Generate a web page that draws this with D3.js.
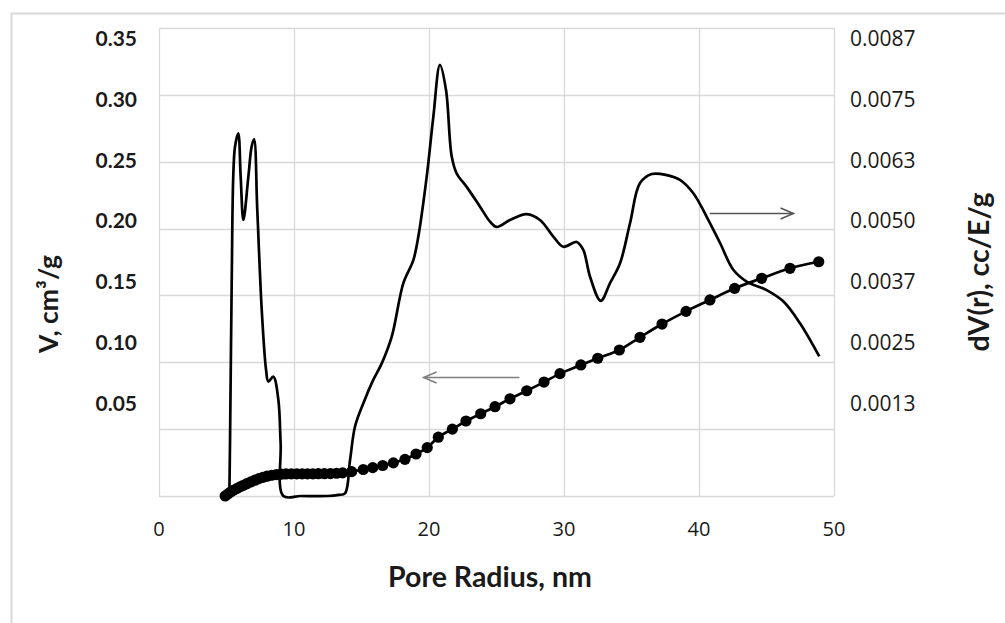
<!DOCTYPE html>
<html>
<head>
<meta charset="utf-8">
<script src="https://cdn.jsdelivr.net/npm/d3@7"></script>
<style>
  body { margin: 0; background: #fff; }
  svg { display: block; }
</style>
</head>
<body>
<script>
// pore radius (nm) of the cumulative volume points
var radiusV = [4.9, 5.1, 5.3, 5.5, 5.75, 6.0, 6.25, 6.5, 6.8, 7.1, 7.4, 7.7, 8.0, 8.35, 8.7,
  9.05, 9.4, 9.8, 10.2, 10.6, 11.0, 11.4, 11.8, 12.25, 12.7, 13.15, 13.6, 14.27, 15.13, 15.83,
  16.57, 17.36, 18.22, 19.04, 19.87, 20.69, 21.73, 22.74, 23.83, 24.89, 26.0, 27.24, 28.52,
  29.7, 31.25, 32.5, 34.1, 35.63, 37.26, 39.04, 40.81, 42.64, 44.64, 46.74, 48.87];
// cumulative volume V, cm3/g
var volume = [0, 0.0015, 0.003, 0.0042, 0.0055, 0.0068, 0.008, 0.0092, 0.0105, 0.0118, 0.013,
  0.014, 0.0148, 0.0155, 0.016, 0.0163, 0.0165, 0.0166, 0.0166, 0.0166, 0.0166, 0.0166, 0.0167,
  0.0167, 0.0168, 0.017, 0.0173, 0.0182, 0.0198, 0.0212, 0.0228, 0.0248, 0.0274, 0.0314, 0.0362,
  0.044, 0.05, 0.0561, 0.0615, 0.0668, 0.0727, 0.0787, 0.0852, 0.0915, 0.098, 0.103, 0.1092,
  0.1187, 0.1286, 0.1381, 0.1466, 0.1553, 0.1628, 0.1703, 0.1752];

// pore radius (nm) of the distribution curve
var radiusD = [5.21, 5.26, 5.39, 5.5, 5.63, 5.87, 6.05, 6.25, 6.62, 6.86, 7.04, 7.28, 7.61, 7.93,
  8.1, 8.47, 8.84, 9.01, 9.21, 10.5, 12.5, 13.3, 13.78, 14.15, 14.52, 15.13, 15.87, 16.5, 17.24,
  18.1, 18.84, 19.21, 19.83, 20.32, 20.81, 21.26, 21.68, 22.05, 22.79, 23.78, 24.52, 25.01, 26.0,
  27.24, 28.22, 29.21, 29.95, 30.94, 31.43, 31.93, 32.72, 33.41, 34.15, 34.89, 35.63, 36.5,
  37.61, 38.59, 39.58, 40.57, 41.56, 42.54, 43.53, 45.01, 46.24, 47.48, 48.91];
// dV(r), cc/E/g
var dV = [0, 0.00099, 0.0041, 0.00597, 0.00653, 0.00678, 0.00597, 0.00516, 0.00597, 0.00653,
  0.00667, 0.00535, 0.00348, 0.00236, 0.00214, 0.00223, 0.0018, 0.00099, 0, 0, 0, 0.00002,
  0.00005, 0.00067, 0.0013, 0.00173, 0.00217, 0.00248, 0.00298, 0.00398, 0.00441, 0.00485,
  0.00597, 0.00709, 0.00806, 0.00759, 0.00635, 0.00603, 0.00578, 0.00541, 0.00513, 0.00503,
  0.00516, 0.00527, 0.00516, 0.00485, 0.00466, 0.00475, 0.0046, 0.0041, 0.00365, 0.00398,
  0.00435, 0.0051, 0.00585, 0.00602, 0.006, 0.00591, 0.00566, 0.00522, 0.00473, 0.00423,
  0.00401, 0.00385, 0.00364, 0.00323, 0.00261];

var xTicks = [0, 10, 20, 30, 40, 50];
var leftTicks = [0.05, 0.10, 0.15, 0.20, 0.25, 0.30, 0.35];
var leftLabels = ["0.05", "0.10", "0.15", "0.20", "0.25", "0.30", "0.35"];
var rightTicks = [0.00125, 0.0025, 0.00375, 0.005, 0.00625, 0.0075, 0.00875];
var rightLabels = ["0.0013", "0.0025", "0.0037", "0.0050", "0.0063", "0.0075", "0.0087"];
var gridV = [0, 0.05, 0.10, 0.15, 0.20, 0.25, 0.30, 0.35];

// annotation arrows: from radius, to radius, height on the left axis
var arrowFrom = [26.7, 40.8];
var arrowTo = [19.6, 47.0];
var arrowAt = [0.089, 0.212];

var width = 1005, height = 623;
var x = d3.scaleLinear().domain([0, 50]).range([159, 834]);
var yL = d3.scaleLinear().domain([0, 0.35]).range([496, 28]);
var yR = d3.scaleLinear().domain([0, 0.00875]).range([496, 28]);
// tick labels sit on their own spacing, a bit tighter than the gridlines
var labL = d3.scaleLinear().domain([0, 0.35]).range([463.7, 38.7]);
var labR = d3.scaleLinear().domain([0, 0.00875]).range([463.7, 38.7]);

var svg = d3.select('body').append('svg')
  .attr('width', width)
  .attr('height', height);

svg.append('rect').attr('width', width).attr('height', height).attr('fill', '#fff');
svg.append('rect')
  .attr('x', 11.5).attr('y', 13.5)
  .attr('width', 1200).attr('height', 800)
  .attr('fill', 'none').attr('stroke', '#d9d9d9').attr('stroke-width', 2);

// gridlines
svg.append('g').selectAll('line').data(gridV).enter().append('line')
  .attr('x1', x(0)).attr('x2', x(50))
  .attr('y1', function (d) { return Math.round(yL(d)) + 0.5; })
  .attr('y2', function (d) { return Math.round(yL(d)) + 0.5; })
  .attr('stroke', '#d9d9d9').attr('stroke-width', 1.3);
svg.append('g').selectAll('line').data(xTicks).enter().append('line')
  .attr('y1', yL(0)).attr('y2', yL(0.35))
  .attr('x1', function (d) { return Math.round(x(d)) + 0.5; })
  .attr('x2', function (d) { return Math.round(x(d)) + 0.5; })
  .attr('stroke', '#d9d9d9').attr('stroke-width', 1.3);

// tick labels
svg.append('g').selectAll('text').data(leftTicks).enter().append('text')
  .attr('x', 137)
  .attr('y', function (d) { return labL(d); })
  .attr('dy', '0.36em')
  .attr('text-anchor', 'end')
  .style('font', 'bold 21px Lato, sans-serif')
  .attr('fill', '#1a1a1a')
  .text(function (d, i) { return leftLabels[i]; });

svg.append('g').selectAll('text').data(rightTicks).enter().append('text')
  .attr('x', 850)
  .attr('y', function (d) { return labR(d); })
  .attr('dy', '0.36em')
  .style('font', '21px "Open Sans", sans-serif')
  .attr('fill', '#1a1a1a')
  .text(function (d, i) { return rightLabels[i]; });

svg.append('g').selectAll('text').data(xTicks).enter().append('text')
  .attr('x', function (d) { return x(d); })
  .attr('y', 536)
  .attr('text-anchor', 'middle')
  .style('font', '20px "Open Sans", sans-serif')
  .attr('fill', '#1a1a1a')
  .text(function (d) { return d; });

// axis titles
svg.append('text')
  .attr('x', 490).attr('y', 587)
  .attr('text-anchor', 'middle')
  .style('font', 'bold 28.5px Lato, sans-serif')
  .attr('fill', '#1a1a1a')
  .text('Pore Radius, nm');
svg.append('text')
  .attr('transform', 'translate(58,304) rotate(-90)')
  .attr('text-anchor', 'middle')
  .style('font', 'bold 26.5px Lato, sans-serif')
  .attr('fill', '#1a1a1a')
  .text('V, cm\u00b3/g');
svg.append('text')
  .attr('transform', 'translate(989,272) rotate(-90)')
  .attr('text-anchor', 'middle')
  .style('font', 'bold 28.5px Lato, sans-serif')
  .attr('fill', '#1a1a1a')
  .text('dV(r), cc/E/g');

// distribution curve on the right axis
var distLine = d3.line()
  .x(function (d) { return x(d[0]); })
  .y(function (d) { return yR(d[1]); })
  .curve(d3.curveCatmullRom.alpha(0.5));
svg.append('path')
  .datum(d3.zip(radiusD, dV))
  .attr('d', distLine)
  .attr('fill', 'none')
  .attr('stroke', '#000')
  .attr('stroke-width', 2.7)
  .attr('stroke-linejoin', 'round');

// cumulative volume on the left axis
var volData = d3.zip(radiusV, volume);
var volLine = d3.line()
  .x(function (d) { return x(d[0]); })
  .y(function (d) { return yL(d[1]); })
  .curve(d3.curveMonotoneX);
svg.append('path')
  .datum(volData)
  .attr('d', volLine)
  .attr('fill', 'none')
  .attr('stroke', '#000')
  .attr('stroke-width', 2.7);
svg.append('g').selectAll('circle').data(volData).enter().append('circle')
  .attr('cx', function (d) { return x(d[0]); })
  .attr('cy', function (d) { return yL(d[1]); })
  .attr('r', 5.6)
  .attr('fill', '#000');

// arrows pointing to each axis
var arrowColors = ['#7f7f7f', '#555'];
arrowFrom.forEach(function (a, i) {
  var x1 = x(a), x2 = x(arrowTo[i]), yy = Math.round(yL(arrowAt[i])) + 0.5;
  var dir = x2 > x1 ? -1 : 1;
  svg.append('line')
    .attr('x1', x1).attr('x2', x2).attr('y1', yy).attr('y2', yy)
    .attr('stroke', arrowColors[i]).attr('stroke-width', 1.5);
  svg.append('path')
    .attr('d', 'M' + (x2 + dir * 13) + ',' + (yy - 5.5) + 'L' + x2 + ',' + yy +
      'L' + (x2 + dir * 13) + ',' + (yy + 5.5))
    .attr('fill', 'none')
    .attr('stroke', arrowColors[i]).attr('stroke-width', 1.5);
});
</script>
</body>
</html>
